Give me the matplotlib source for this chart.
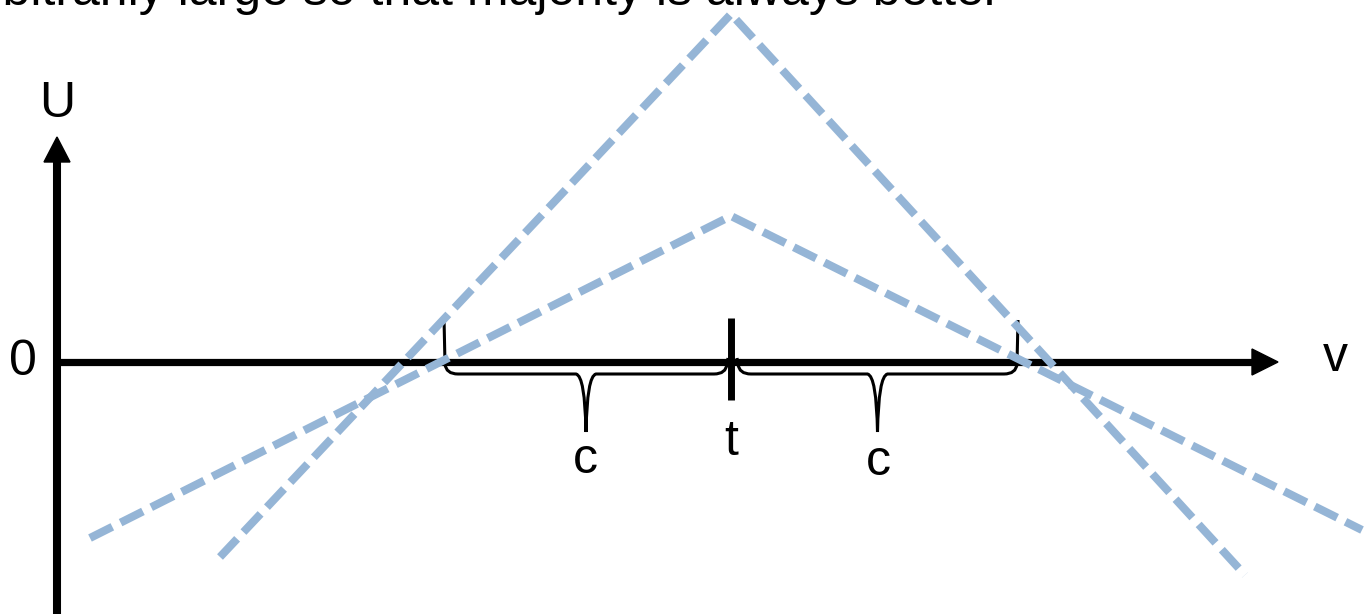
import matplotlib.pyplot as plt
from matplotlib.path import Path
from matplotlib.patches import PathPatch

plt.rcParams['font.family'] = ['Liberation Sans', 'DejaVu Sans']

# schematic values (origin of the v/U axes at 0, 0)
t = 674
c = 287
v_steep = [163, t, 1188]
u_steep = [-195, 348, -213]
v_shallow = [33, t, 1305]
u_shallow = [-176, 146, -168]
title = 'arbitrarily large so that majority is always better'

blue = '#95b5d6'

fig = plt.figure(figsize=(13.66, 6.14), dpi=100)
ax = fig.add_axes([0, 0, 1, 1])
ax.set_xlim(-57, 1309)
ax.set_ylim(-252, 362)
ax.axis('off')

# axes with arrow heads
ax.plot([0, 1196], [0, 0], color='black', lw=5.2, solid_capstyle='butt', zorder=2)
ax.fill([1195, 1221, 1195], [13, 0, -13], color='black', zorder=2)
ax.plot([0, 0], [-260, 201], color='black', lw=5.8, solid_capstyle='butt', zorder=2)
ax.fill([-13, 0, 13], [200, 225, 200], color='black', zorder=2)

# tick at t
ax.plot([t, t], [44, -38], color='black', lw=5, solid_capstyle='butt', zorder=3)


def brace(x0, x1, top0, top1, tip=-70, y=-12):
    mid = (x0 + x1) / 2
    verts = [(x0, top0), (x0 + 1, y + 10), (x0 + 2, y), (x0 + 14, y),
             (mid - 10, y), (mid - 1, y - 2), (mid, tip),
             (mid + 1, y - 2), (mid + 10, y),
             (x1 - 14, y), (x1 - 2, y), (x1 - 1, y + 10), (x1, top1)]
    codes = [Path.MOVETO, Path.LINETO, Path.CURVE3, Path.CURVE3,
             Path.LINETO, Path.CURVE3, Path.CURVE3,
             Path.CURVE3, Path.CURVE3,
             Path.LINETO, Path.CURVE3, Path.CURVE3, Path.LINETO]
    ax.add_patch(PathPatch(Path(verts, codes), fill=False, ec='black',
                           lw=2.2, zorder=3))


brace(t - c, t - 3, 44, 4)
brace(t + 6, t + c, 4, 42)

# utility lines
ax.plot(v_steep, u_steep, color=blue, lw=5.8, dashes=(3.1, 1.15),
        dash_capstyle='butt', zorder=4)
ax.plot(v_shallow, u_shallow, color=blue, lw=5.8, dashes=(3.1, 1.15),
        dash_capstyle='butt', zorder=4)

fs = 36
ax.text(0, 258, 'U', fontsize=fs, ha='center', va='center')
ax.text(-34, 0, '0', fontsize=fs, ha='center', va='center')
ax.text(1278, 4, 'v', fontsize=fs, ha='center', va='center')
ax.text(t, -80, 't', fontsize=fs, ha='center', va='center')
ax.text(t - c / 2 - 2, -98, 'c', fontsize=fs, ha='center', va='center')
ax.text(t + c / 2 + 4, -100, 'c', fontsize=fs, ha='center', va='center')
ax.text(944, 357, title, fontsize=fs, ha='right', va='baseline')

fig.savefig('out.png', dpi=100)
